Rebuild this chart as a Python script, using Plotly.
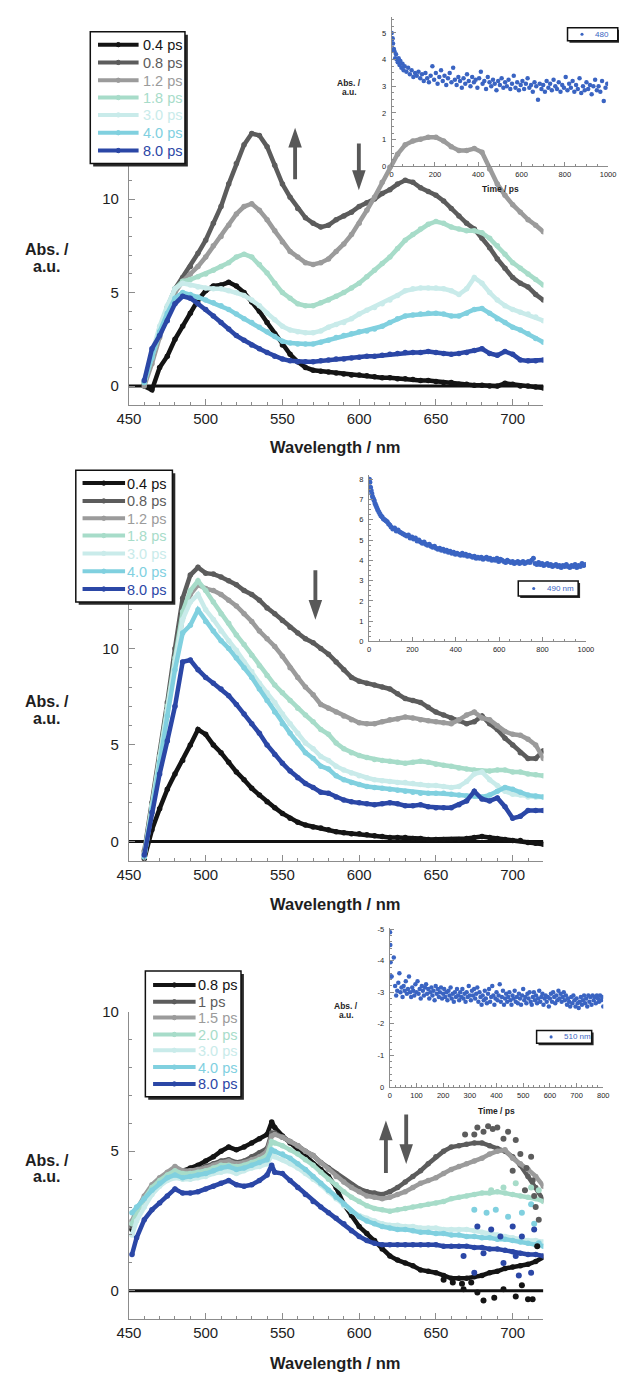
import plotly.graph_objects as go

W, H = 619, 1375
FONT = "Liberation Sans, Arial, Helvetica, sans-serif"

# ---------------------------------------------------------------- spectra
WL1 = list(range(460, 725, 5))
WL2 = list(range(460, 725, 5))
WL3 = [452, 455] + list(range(460, 545, 5)) + [543] + list(range(545, 725, 5))

LABELS_AB = ["0.4 ps", "0.8 ps", "1.2 ps", "1.8 ps", "3.0 ps", "4.0 ps", "8.0 ps"]
LABELS_C = ["0.8 ps", "1 ps", "1.5 ps", "2.0 ps", "3.0 ps", "4.0 ps", "8.0 ps"]
COLORS = ["#141414", "#5c5c5c", "#9b9b9b", "#a7dcc9", "#c9ebea", "#80d0df", "#2b47a6"]
INSET_BLUE = "#3a64c2"

P1_04 = [0.0, -0.2, 1.0, 1.6, 2.5, 3.2, 3.9, 4.6, 5.1, 5.35, 5.4, 5.55, 5.35, 5.0, 4.5,
         4.0, 3.4, 2.8, 2.2, 1.7, 1.3, 1.0, 0.85, 0.8, 0.75, 0.7, 0.65, 0.6, 0.6,
         0.55, 0.5, 0.45, 0.45, 0.4, 0.4, 0.35, 0.3, 0.3, 0.25, 0.2, 0.2, 0.1, 0.1, 0.05, 0.05,
         0.0, 0.0, 0.15, 0.1, 0.0, 0.0, -0.05, -0.1]
P1_08 = [0.2, 1.5, 3.0, 4.2, 5.2, 5.8, 6.4, 7.1, 7.8, 8.7, 9.6, 10.8, 11.9, 12.9, 13.5,
         13.4, 12.8, 11.8, 10.8, 10.1, 9.5, 9.0, 8.7, 8.5, 8.6, 8.9, 9.1, 9.3, 9.6,
         9.8, 10.0, 10.3, 10.5, 10.8, 11.0, 10.9, 10.6, 10.4, 10.2, 9.9, 9.5, 9.1, 8.7, 8.4, 7.9,
         7.4, 6.8, 6.3, 5.8, 5.5, 5.3, 4.9, 4.6]
P1_12 = [0.0, 1.2, 2.6, 3.9, 5.0, 5.6, 6.0, 6.4, 6.9, 7.5, 8.0, 8.6, 9.2, 9.6, 9.75,
         9.4, 8.9, 8.3, 7.7, 7.2, 6.9, 6.6, 6.5, 6.6, 6.8, 7.2, 7.6, 8.1, 8.7,
         9.4, 10.1, 10.9, 11.7, 12.4, 12.9, 13.1, 13.2, 13.3, 13.3, 13.1, 12.8, 12.6, 12.6, 12.7, 12.5,
         11.6, 10.8, 10.2, 9.7, 9.3, 8.9, 8.6, 8.25]
P1_18 = [0.2, 1.6, 3.0, 4.2, 5.2, 5.6, 5.7, 5.85, 6.0, 6.2, 6.4, 6.6, 6.9, 7.05, 6.9,
         6.5, 6.05, 5.5, 5.0, 4.7, 4.4, 4.3, 4.3, 4.45, 4.6, 4.8, 5.0, 5.25, 5.5,
         5.85, 6.2, 6.55, 6.9, 7.35, 7.8, 8.1, 8.4, 8.65, 8.8, 8.7, 8.5, 8.4, 8.3, 8.3, 8.2,
         7.9, 7.5, 7.05, 6.6, 6.3, 6.0, 5.7, 5.4]
P1_30 = [0.3, 1.8, 3.2, 4.3, 5.2, 5.5, 5.4, 5.3, 5.25, 5.2, 5.2, 5.1, 5.0, 4.85, 4.6,
         4.3, 3.9, 3.55, 3.2, 3.0, 2.9, 2.85, 2.85, 2.95, 3.15, 3.3, 3.4, 3.6, 3.85,
         4.05, 4.2, 4.4, 4.6, 4.85, 5.1, 5.2, 5.25, 5.25, 5.25, 5.2, 5.1, 4.9, 5.2, 5.8, 5.5,
         5.0, 4.6, 4.3, 4.1, 3.95, 3.85, 3.7, 3.5]
P1_40 = [0.2, 1.5, 2.9, 3.9, 4.7, 5.0, 4.9, 4.75, 4.6, 4.45, 4.3, 4.1, 3.85, 3.6, 3.4,
         3.15, 2.9, 2.65, 2.4, 2.3, 2.25, 2.25, 2.25, 2.35, 2.45, 2.6, 2.7, 2.8, 2.9,
         2.95, 3.05, 3.2, 3.4, 3.6, 3.75, 3.8, 3.85, 3.9, 3.9, 3.85, 3.75, 3.75, 3.9, 4.1, 4.15,
         3.9, 3.6, 3.4, 3.15, 3.0, 2.8, 2.55, 2.35]
P1_80 = [0.3, 2.0, 2.7, 3.5, 4.4, 4.8, 4.7, 4.4, 4.1, 3.75, 3.4, 3.05, 2.7, 2.45, 2.2,
         2.0, 1.8, 1.6, 1.45, 1.35, 1.3, 1.3, 1.3, 1.35, 1.4, 1.45, 1.45, 1.5, 1.55,
         1.6, 1.6, 1.65, 1.7, 1.75, 1.8, 1.8, 1.8, 1.85, 1.8, 1.75, 1.7, 1.75, 1.8, 1.9, 2.0,
         1.75, 1.65, 1.85, 1.7, 1.4, 1.35, 1.35, 1.4]

P2_04 = [-0.9, 0.6, 1.7, 2.7, 3.5, 4.2, 5.0, 5.8, 5.55, 5.0, 4.6, 4.1, 3.6, 3.2, 2.75,
         2.4, 2.05, 1.75, 1.45, 1.2, 1.0, 0.85, 0.75, 0.7, 0.6, 0.5, 0.45, 0.4, 0.4,
         0.35, 0.3, 0.25, 0.2, 0.2, 0.2, 0.15, 0.15, 0.1, 0.1, 0.1, 0.1, 0.1, 0.15, 0.2, 0.25,
         0.2, 0.15, 0.1, 0.05, 0.05, -0.05, -0.1, -0.15]
P2_08 = [-0.5, 2.0, 4.5, 7.2, 10.0, 12.6, 13.8, 14.2, 13.9, 13.85, 13.7, 13.5, 13.3, 13.0, 12.8,
         12.5, 12.1, 11.8, 11.45, 11.1, 10.8, 10.5, 10.3, 10.0, 9.7, 9.3, 8.9, 8.5, 8.3,
         8.2, 8.1, 8.0, 7.9, 7.65, 7.4, 7.3, 7.2, 6.95, 6.7, 6.55, 6.4, 6.25, 6.1, 6.2, 6.5,
         6.1, 5.8, 5.35, 5.0, 4.6, 4.3, 4.3, 4.7]
P2_12 = [-0.6, 1.8, 4.3, 6.8, 9.3, 11.6, 12.8, 13.3, 13.1, 13.0, 12.8, 12.5, 12.2, 11.8, 11.4,
         10.9, 10.5, 10.1, 9.6, 9.0, 8.5, 8.0, 7.6, 7.1, 6.9, 6.7, 6.5, 6.3, 6.15,
         6.1, 6.1, 6.2, 6.3, 6.35, 6.45, 6.4, 6.3, 6.25, 6.2, 6.15, 6.1, 6.3, 6.55, 6.7, 6.4,
         6.3, 6.0, 5.7, 5.55, 5.5, 5.3, 5.0, 4.3]
P2_18 = [-0.7, 1.9, 4.4, 7.0, 9.5, 11.9, 13.0, 13.5, 13.0, 12.4, 11.8, 11.3, 10.7, 10.2, 9.65,
         9.1, 8.6, 8.1, 7.7, 7.3, 6.9, 6.55, 6.2, 5.8, 5.55, 5.1, 4.8, 4.6, 4.45,
         4.35, 4.25, 4.2, 4.15, 4.1, 4.05, 4.1, 4.15, 4.1, 4.0, 3.95, 3.9, 3.8, 3.75, 3.7, 3.65,
         3.65, 3.7, 3.7, 3.6, 3.6, 3.5, 3.45, 3.4]
P2_30 = [-0.8, 1.8, 4.3, 6.8, 9.3, 11.5, 12.4, 12.8, 12.0, 11.5, 10.9, 10.4, 9.9, 9.3, 8.8,
         8.2, 7.7, 7.2, 6.6, 6.1, 5.6, 5.1, 4.8, 4.4, 4.2, 3.9, 3.7, 3.55, 3.4,
         3.3, 3.2, 3.15, 3.1, 3.05, 3.05, 3.0, 2.95, 2.9, 2.9, 2.85, 2.8, 2.85, 3.1, 3.5, 3.6,
         3.2, 2.9, 2.6, 2.45, 2.4, 2.3, 2.3, 2.3]
P2_40 = [-0.8, 1.7, 4.1, 6.5, 8.9, 10.8, 11.2, 12.0, 11.4, 10.9, 10.4, 10.0, 9.5, 9.0, 8.5,
         7.9, 7.3, 6.7, 6.1, 5.6, 5.1, 4.6, 4.3, 3.9, 3.75, 3.4, 3.2, 3.05, 2.95,
         2.85, 2.8, 2.75, 2.7, 2.65, 2.6, 2.55, 2.5, 2.5, 2.5, 2.5, 2.45, 2.4, 2.35, 2.35, 2.3,
         2.4, 2.6, 2.8, 2.7, 2.55, 2.4, 2.35, 2.3]
P2_80 = [-0.7, 1.5, 3.5, 5.2, 7.0, 9.3, 9.4, 8.9, 8.5, 8.2, 7.9, 7.55, 7.1, 6.6, 6.1,
         5.6, 5.0, 4.5, 4.05, 3.65, 3.3, 3.0, 2.8, 2.55, 2.5, 2.3, 2.15, 2.05, 2.0,
         1.95, 1.9, 1.95, 2.0, 1.95, 1.85, 1.85, 1.9, 1.8, 1.75, 1.75, 1.75, 1.9, 2.1, 2.6, 2.2,
         2.1, 2.25, 1.8, 1.2, 1.3, 1.6, 1.6, 1.6]

P3_08 = [2.2, 2.6, 3.3, 3.7, 3.95, 4.15, 4.3, 4.3, 4.4, 4.5, 4.65, 4.8, 5.0, 5.15, 5.05, 5.15, 5.3, 5.45, 5.6,
         6.05,
         5.85, 5.55, 5.3, 5.1, 4.8, 4.55, 4.35, 4.1, 3.7, 3.1, 2.7, 2.3, 2.05, 1.8, 1.5, 1.25, 1.1, 1.0,
         0.9, 0.75, 0.7, 0.65, 0.55, 0.45, 0.45, 0.45, 0.5, 0.55, 0.65, 0.7, 0.8, 0.85, 0.9, 0.95, 1.05, 1.2]
P3_10 = [2.3, 2.7, 3.3, 3.7, 4.0, 4.2, 4.4, 4.3, 4.3, 4.35, 4.45, 4.55, 4.65, 4.7, 4.6, 4.65, 4.8, 4.95, 5.1,
         5.65,
         5.65, 5.5, 5.35, 5.2, 5.0, 4.85, 4.6, 4.4, 4.2, 4.0, 3.8, 3.65, 3.55, 3.5, 3.45, 3.55, 3.7, 3.9,
         4.1, 4.3, 4.55, 4.8, 5.0, 5.15, 5.2, 5.25, 5.3, 5.3, 5.2, 5.1, 5.0, 4.8, 4.5, 4.1, 3.7, 3.25]
P3_15 = [2.5, 2.9, 3.4, 3.8, 4.05, 4.25, 4.45, 4.3, 4.3, 4.35, 4.4, 4.5, 4.6, 4.65, 4.55, 4.6, 4.7, 4.8, 5.0,
         5.55,
         5.6, 5.5, 5.35, 5.2, 5.0, 4.85, 4.6, 4.35, 4.1, 3.9, 3.7, 3.55, 3.4, 3.35, 3.3, 3.35, 3.45, 3.55,
         3.7, 3.85, 3.95, 4.05, 4.2, 4.35, 4.45, 4.55, 4.65, 4.75, 4.9, 5.0, 5.05, 4.75, 4.55, 4.35, 4.1, 3.75]
P3_20 = [2.4, 2.8, 3.3, 3.7, 3.95, 4.15, 4.3, 4.2, 4.2, 4.25, 4.3, 4.4, 4.5, 4.5, 4.45, 4.5, 4.6, 4.7, 4.85,
         5.35,
         5.3, 5.2, 5.05, 4.9, 4.7, 4.5, 4.25, 4.0, 3.8, 3.55, 3.35, 3.2, 3.05, 2.95, 2.9, 2.85, 2.9, 2.95,
         3.0, 3.05, 3.1, 3.15, 3.2, 3.3, 3.35, 3.4, 3.45, 3.5, 3.5, 3.55, 3.5, 3.45, 3.4, 3.35, 3.3, 3.2]
P3_30 = [2.0, 2.5, 3.0, 3.45, 3.75, 3.95, 4.05, 4.0, 4.0, 4.05, 4.1, 4.2, 4.25, 4.3, 4.2, 4.3, 4.4, 4.45, 4.55,
         4.85,
         4.8, 4.7, 4.55, 4.4, 4.2, 4.0, 3.8, 3.55, 3.3, 3.05, 2.85, 2.7, 2.6, 2.5, 2.4, 2.35, 2.35, 2.3,
         2.3, 2.25, 2.25, 2.25, 2.2, 2.2, 2.2, 2.2, 2.15, 2.1, 2.05, 2.0, 1.95, 1.9, 1.85, 1.8, 1.8, 1.75]
P3_40 = [2.8, 3.0, 3.3, 3.6, 3.85, 4.05, 4.15, 4.05, 4.1, 4.15, 4.2, 4.3, 4.4, 4.45, 4.35, 4.4, 4.5, 4.6, 4.7,
         5.05,
         5.0, 4.9, 4.75, 4.55, 4.35, 4.1, 3.85, 3.6, 3.35, 3.1, 2.85, 2.65, 2.5, 2.4, 2.3, 2.25, 2.2, 2.2,
         2.15, 2.1, 2.1, 2.05, 2.05, 2.0, 2.0, 1.95, 1.95, 1.9, 1.9, 1.85, 1.85, 1.8, 1.75, 1.7, 1.65, 1.6]
P3_80 = [1.3, 1.9, 2.55, 2.9, 3.15, 3.4, 3.65, 3.5, 3.5, 3.55, 3.65, 3.75, 3.85, 3.95, 3.8, 3.75, 3.8, 3.95, 4.15,
         4.5,
         4.25, 4.2, 3.95, 3.7, 3.45, 3.2, 3.0, 2.8, 2.6, 2.4, 2.15, 1.95, 1.8, 1.7, 1.65, 1.65, 1.65, 1.65,
         1.65, 1.65, 1.65, 1.65, 1.6, 1.6, 1.6, 1.6, 1.55, 1.55, 1.5, 1.5, 1.45, 1.4, 1.35, 1.3, 1.3, 1.25]

# scattered single-shot points in the red end of the third spectrum set
DOT3_08_WL = [655, 661, 667, 668, 673, 677, 681, 688, 694, 702, 706, 710, 713, 716]
DOT3_08_V = [0.4, 0.3, 0.25, 0.06, 0.3, -0.06, -0.35, -0.25, 0.06, -0.2, 0.2, -0.3, -0.3, 1.6]
DOT3_10_WL = [669, 675, 677, 681, 684, 687, 690, 694, 697, 700, 702, 705, 708, 709, 712, 713, 714, 715, 717]
DOT3_10_V = [5.6, 5.6, 5.85, 5.7, 5.9, 5.8, 5.85, 5.45, 5.7, 4.3, 5.4, 4.9, 3.6, 4.4, 4.8, 3.95, 3.4, 3.0, 2.55]
DOT3_20_WL = [686, 694, 702, 712, 717]
DOT3_20_V = [3.6, 3.7, 3.85, 3.7, 3.6]
DOT3_40_WL = [675, 683, 689, 697, 706, 712, 714, 717]
DOT3_40_V = [2.9, 2.8, 2.9, 2.65, 2.8, 3.1, 2.4, 1.7]
DOT3_80_WL = [668, 675, 677, 681, 686, 692, 694, 700, 702, 704, 706, 712, 714]
DOT3_80_V = [1.25, 0.65, 2.3, 1.35, 2.2, 1.95, 1.0, 2.3, 1.25, 0.55, 1.95, 0.65, 2.2]

BASE_X = [450, 720]
BASE_Y = [0, 0]

# ---------------------------------------------------------------- kinetics (insets)
T1 = [0, 2, 4, 6, 8, 10, 13, 16, 20, 24, 28, 32, 36, 40, 45, 50, 55, 60] + list(range(68, 1000, 8))
A1 = [5.0, 4.75, 4.8, 4.6, 4.35, 4.4, 4.3, 4.05, 4.2, 4.0, 3.9, 4.05, 3.8, 3.95, 3.7, 3.85, 3.6, 3.75,
      3.55, 3.7, 3.45, 3.6, 3.35, 3.5, 3.4, 3.55, 3.3, 3.45, 3.2, 3.5, 3.3, 3.15, 3.4, 3.75, 3.25, 3.5,
      3.1, 3.35, 3.6, 3.2, 3.4, 3.05, 3.3, 3.5, 3.15, 3.7, 3.25, 3.05, 3.35, 3.2, 2.95, 3.3, 3.1, 3.45,
      3.2, 3.0, 3.35, 3.15, 3.25, 2.95, 3.3, 3.55, 3.1, 3.2, 2.9, 3.35, 3.15, 3.0, 3.25, 3.1, 2.85, 3.2,
      3.05, 3.3, 2.95, 3.15, 3.0, 3.25, 2.9, 3.1, 3.4, 2.95, 3.15, 2.85, 3.05, 3.2, 2.9, 3.1, 3.3, 2.95,
      3.05, 2.8, 3.15, 3.0, 2.5, 3.1, 2.9, 3.05, 2.8, 3.2, 2.95, 3.1, 2.85, 3.25, 3.0, 2.9, 3.15, 2.8,
      3.05, 2.95, 3.35, 2.85, 3.1, 2.95, 3.2, 2.8, 3.05, 2.9, 3.3, 2.75, 3.0, 2.85, 3.15, 2.9, 3.05, 2.7,
      3.0, 3.25, 2.85, 3.0, 2.8, 3.2, 2.45, 2.95, 3.1]

T2 = [2, 4, 7, 10, 13, 16, 20, 24, 28, 32, 36, 40, 45, 50, 55, 60, 66, 72, 78, 84, 90, 96] + list(range(102, 1000, 8))
A2 = [8.0, 7.85, 7.6, 7.45, 7.3, 7.15, 7.05, 6.95, 6.8, 6.7, 6.6, 6.5, 6.4, 6.3, 6.2, 6.15, 6.05, 6.0,
      5.95, 5.9, 5.8, 5.75,
      5.65, 5.55, 5.6, 5.45, 5.5, 5.4, 5.35, 5.3, 5.25, 5.2, 5.25, 5.1, 5.15, 5.05, 5.1, 4.95, 5.0, 4.9,
      4.85, 4.9, 4.8, 4.75, 4.8, 4.7, 4.65, 4.7, 4.6, 4.55, 4.6, 4.5, 4.55, 4.45, 4.5, 4.4, 4.45, 4.35,
      4.4, 4.3, 4.35, 4.3, 4.25, 4.35, 4.25, 4.3, 4.2, 4.25, 4.2, 4.15, 4.2, 4.1, 4.15, 4.1, 4.15, 4.05,
      4.1, 4.15, 4.05, 4.1, 4.0, 4.05, 4.0, 4.1, 3.95, 4.05, 4.0, 3.95, 3.9, 4.0, 3.95, 3.9, 3.95, 3.85,
      3.9, 3.95, 3.85, 3.9, 3.95, 3.85, 3.9, 3.95, 3.9, 4.0, 4.1, 3.85, 3.8, 3.9, 3.8, 3.85, 3.75, 3.8,
      3.85, 3.75, 3.8, 3.7, 3.75, 3.8, 3.7, 3.75, 3.65, 3.75, 3.7, 3.8, 3.7, 3.65, 3.75, 3.7, 3.8, 3.65,
      3.75, 3.7, 3.85, 3.75, 3.8]

T3 = [1, 2, 3, 5, 7, 15] + list(range(20, 801, 4))
A3 = [-4.9, -4.5, -3.95, -3.5, -3.5, -4.1,
      -3.2, -2.9, -3.05, -3.3, -3.6, -3.0, -3.15, -2.85, -3.2, -3.05, -3.35, -2.95, -3.1, -3.5, -3.0,
      -2.85, -3.15, -3.05, -2.9, -3.25, -3.0, -3.35, -2.95, -3.1, -2.8, -3.2, -3.05, -2.9, -3.15, -3.25,
      -2.95, -3.1, -2.8, -3.0, -3.15, -2.9, -3.05, -2.75, -3.2, -2.95, -3.1, -2.85, -3.0, -3.15, -2.8,
      -2.95, -3.1, -2.85, -3.0, -2.75, -3.05, -2.9, -3.15, -2.8, -2.95, -2.7, -3.0, -2.85, -3.1, -2.9,
      -2.75, -3.0, -2.85, -3.1, -2.8, -2.95, -2.7, -3.0, -2.85, -3.2, -2.9, -2.75, -3.05, -2.9, -3.1,
      -2.8, -2.95, -3.15, -2.7, -3.0, -2.85, -2.6, -2.9, -2.75, -3.05, -2.8, -2.65, -2.95, -3.1, -2.7,
      -2.85, -3.2, -2.9, -2.6, -2.8, -3.0, -2.75, -2.9, -3.25, -2.7, -2.85, -3.05, -2.6, -2.8, -2.95,
      -2.7, -2.85, -3.0, -2.75, -2.6, -2.9, -2.8, -3.05, -2.7, -2.85, -2.65, -2.95, -2.8, -2.6, -2.9,
      -3.1, -2.75, -2.85, -2.65, -2.95, -2.8, -3.0, -2.7, -2.6, -2.85, -3.0, -2.75, -2.9, -2.65, -2.8,
      -3.05, -2.7, -2.85, -2.95, -2.6, -2.8, -2.9, -2.7, -2.85, -2.55, -2.8, -2.95, -2.7, -3.0, -2.85,
      -2.65, -2.9, -2.75, -3.05, -2.8, -2.95, -2.7, -2.85, -3.0, -2.75, -2.9, -2.6, -2.8, -2.7, -2.55,
      -2.85, -2.65, -2.9, -2.75, -2.55, -2.8, -2.65, -2.5, -2.7, -2.85, -2.6, -2.75, -2.9, -2.65, -2.8,
      -2.55, -2.9, -2.7, -2.85, -2.6, -2.9, -2.75, -2.85, -2.65, -2.9, -2.8, -2.7, -2.9, -2.75, -2.85,
      -2.55]

for name, xs, ys in [("P1", WL1, P1_80), ("P2", WL2, P2_80), ("P3", WL3, P3_80),
                     ("T1", T1, A1), ("T2", T2, A2), ("T3", T3, A3)]:
    assert len(xs) == len(ys), (name, len(xs), len(ys))

PANEL1 = [P1_04, P1_08, P1_12, P1_18, P1_30, P1_40, P1_80]
PANEL2 = [P2_04, P2_08, P2_12, P2_18, P2_30, P2_40, P2_80]
PANEL3 = [P3_08, P3_10, P3_15, P3_20, P3_30, P3_40, P3_80]
for grp, wl in [(PANEL1, WL1), (PANEL2, WL2), (PANEL3, WL3)]:
    for s in grp:
        assert len(s) == len(wl), (len(s), len(wl))


# ---------------------------------------------------------------- helpers
def fx(x):
    return x / W


def fy(y):
    return 1 - y / H


AX_GRAY = "#8c8c8c"
TXT = "#1e1e1e"

fig = go.Figure()


def add_spectra(xa, ya, wl, series):
    fig.add_trace(go.Scatter(x=BASE_X, y=BASE_Y, mode="lines", xaxis=xa, yaxis=ya,
                             line=dict(color="#111111", width=3), hoverinfo="skip", showlegend=False))
    for vals, col in zip(series, COLORS):
        fig.add_trace(go.Scatter(x=wl, y=vals, mode="lines+markers", xaxis=xa, yaxis=ya,
                                 line=dict(color=col, width=4.5),
                                 marker=dict(color=col, size=5.5),
                                 hoverinfo="skip", showlegend=False))


add_spectra("x", "y", WL1, PANEL1)
add_spectra("x3", "y3", WL2, PANEL2)
add_spectra("x5", "y5", WL3, PANEL3)

for wl, v, ci in [(DOT3_20_WL, DOT3_20_V, 3), (DOT3_40_WL, DOT3_40_V, 5), (DOT3_80_WL, DOT3_80_V, 6),
                  (DOT3_10_WL, DOT3_10_V, 1), (DOT3_08_WL, DOT3_08_V, 0)]:
    fig.add_trace(go.Scatter(x=wl, y=v, mode="markers", xaxis="x5", yaxis="y5",
                             marker=dict(color=COLORS[ci], size=6), hoverinfo="skip", showlegend=False))

for t, a, xa, ya, ms in [(T1, A1, "x2", "y2", 4.5), (T2, A2, "x4", "y4", 5), (T3, A3, "x6", "y6", 4.5)]:
    fig.add_trace(go.Scatter(x=t, y=a, mode="markers", xaxis=xa, yaxis=ya,
                             marker=dict(color=INSET_BLUE, size=ms), hoverinfo="skip", showlegend=False))


def axis_common(size, ticklen):
    return dict(showline=True, linecolor=AX_GRAY, linewidth=1, ticks="inside", ticklen=ticklen,
                tickcolor=AX_GRAY, tickwidth=1, showgrid=False, zeroline=False,
                tickfont=dict(family=FONT, size=size, color=TXT))


def main_x(anchor):
    d = axis_common(15, 6)
    d.update(domain=[fx(120), fx(549)], range=[450, 720], anchor=anchor, tickmode="linear",
             tick0=450, dtick=50,
             minor=dict(ticks="inside", ticklen=3, tick0=450, dtick=10, tickcolor=AX_GRAY, showgrid=False))
    return d


def main_y(anchor, zero_px, per_unit, ymin, ymax):
    d = axis_common(15, 6)
    d.update(domain=[fy(zero_px - ymin * per_unit), fy(zero_px - ymax * per_unit)], range=[ymin, ymax],
             anchor=anchor, tickmode="linear", tick0=0, dtick=5, ticklabelstandoff=6,
             minor=dict(ticks="inside", ticklen=3, tick0=0, dtick=1, tickcolor=AX_GRAY, showgrid=False))
    return d


def inset_x(anchor, x0_px, x1_px, rng, dtick, mdtick):
    d = axis_common(7.5, 4)
    d.update(domain=[fx(x0_px), fx(x1_px)], range=rng, anchor=anchor, tickmode="linear", tick0=0,
             dtick=dtick, ticklabelstandoff=1,
             minor=dict(ticks="inside", ticklen=2, tick0=0, dtick=mdtick, tickcolor=AX_GRAY, showgrid=False))
    return d


def inset_y(anchor, bot_px, top_px, rng, mdtick):
    d = axis_common(7.5, 4)
    d.update(domain=[fy(bot_px), fy(top_px)], range=rng, anchor=anchor, tickmode="linear", tick0=0,
             dtick=1, ticklabelstandoff=3,
             minor=dict(ticks="inside", ticklen=2, tick0=0, dtick=mdtick, tickcolor=AX_GRAY, showgrid=False))
    return d


y6 = inset_y("x6", 1089, 928, [0, -5.05], 0.2)
y6.update(tickmode="array", tickvals=[0, -1, -2, -3, -4, -5], ticktext=["0", "-1", "-2", "-3", "-4", "-5"])

fig.update_layout(
    width=W, height=H, margin=dict(l=0, r=0, t=0, b=0),
    paper_bgcolor="white", plot_bgcolor="rgba(0,0,0,0)", showlegend=False,
    xaxis=main_x("y"),
    yaxis=main_y("x", 381, 18.9, -1, 14.9),
    xaxis3=main_x("y3"),
    yaxis3=main_y("x3", 841, 19.5, -1, 14.9),
    xaxis5=main_x("y5"),
    yaxis5=main_y("x5", 1295, 28.2, -1, 10),
    xaxis2=inset_x("y2", 392, 616, [0, 1000], 200, 50),
    yaxis2=inset_y("x2", 159, 8, [0, 5.6], 0.25),
    xaxis4=inset_x("y4", 368.5, 593, [0, 1000], 200, 50),
    yaxis4=inset_y("x4", 639, 471, [0, 8.2], 0.25),
    xaxis6=inset_x("y6", 390, 611, [0, 800], 100, 20),
    yaxis6=y6,
)

shapes = []
annotations = []


def text(x, y, s, size, color=TXT, bold=False, anchor="center"):
    annotations.append(dict(x=fx(x), y=fy(y), xref="paper", yref="paper", text=("<b>%s</b>" % s) if bold else s,
                            showarrow=False, xanchor=anchor, yanchor="middle",
                            font=dict(family=FONT, size=size, color=color)))


def box(x0, y0, x1, y1, sh):
    shapes.append(dict(type="rect", xref="paper", yref="paper", x0=fx(x0 + sh), x1=fx(x1 + sh),
                       y0=fy(y1 + sh), y1=fy(y0 + sh), fillcolor="#2a2a2a", line=dict(width=0), layer="above"))
    shapes.append(dict(type="rect", xref="paper", yref="paper", x0=fx(x0), x1=fx(x1),
                       y0=fy(y1), y1=fy(y0), fillcolor="white", line=dict(color="#111111", width=1.5),
                       layer="above"))


def legend(x0, y0, x1, y1, rows, lx0, lx1, tx, labels):
    box(x0, y0, x1, y1, 3)
    for yy, lab, col in zip(rows, labels, COLORS):
        shapes.append(dict(type="line", xref="paper", yref="paper", x0=fx(lx0), x1=fx(lx1), y0=fy(yy),
                           y1=fy(yy), line=dict(color=col, width=4), layer="above"))
        r = 2.2
        shapes.append(dict(type="circle", xref="paper", yref="paper", x0=fx((lx0 + lx1) / 2 - r),
                           x1=fx((lx0 + lx1) / 2 + r), y0=fy(yy + r), y1=fy(yy - r),
                           fillcolor=col, line=dict(color=col, width=1), layer="above"))
        text(tx, yy + 0.5, lab, 14.5, color=col, anchor="left")


legend(80, 23, 178, 156, [36, 54, 72, 89.5, 107, 125, 143], 88, 130, 132, LABELS_AB)
legend(65, 466, 165, 599, [479, 497, 514.5, 532, 550, 568, 586], 72, 116, 116, LABELS_AB)
legend(137, 972, 236, 1099, [986, 1003, 1019, 1036, 1052, 1069, 1086], 145, 189, 189, LABELS_C)


def inset_legend(x0, y0, x1, y1, dot_x, tx, label):
    box(x0, y0, x1, y1, 2)
    yy = (y0 + y1) / 2
    shapes.append(dict(type="circle", xref="paper", yref="paper", x0=fx(dot_x - 1.6), x1=fx(dot_x + 1.6),
                       y0=fy(yy + 1.6), y1=fy(yy - 1.6), fillcolor=INSET_BLUE, line=dict(width=0),
                       layer="above"))
    text(tx, yy, label, 8, color=INSET_BLUE, anchor="left")


inset_legend(574, 19, 626, 32, 589, 600, "480")
inset_legend(523, 578, 585, 593, 539, 551, "490 nm")
inset_legend(542, 1032, 599, 1045, 557, 568, "510 nm")


def arrow(xc, y_tail, y_tip, color="#585858"):
    d = 1 if y_tip > y_tail else -1
    hl, hw, sw = 20, 7, 2
    base = y_tip - d * hl
    pts = [(xc - sw, y_tail), (xc - sw, base), (xc - hw, base), (xc, y_tip),
           (xc + hw, base), (xc + sw, base), (xc + sw, y_tail)]
    path = "M" + " L".join("%.5f,%.5f" % (fx(px), fy(py)) for px, py in pts) + " Z"
    shapes.append(dict(type="path", xref="paper", yref="paper", path=path, fillcolor=color,
                       line=dict(width=0), layer="above"))


arrow(292, 172, 120)
arrow(358, 136, 183)
arrow(313, 567, 617)
arrow(386, 1176, 1123)
arrow(407, 1117, 1167)

# axis titles
for y_title, y_abs in [(443, 243), (904, 700), (1368, 1163)]:
    text(334, y_title, "Wavelength / nm", 16.5, bold=True)
    text(35, y_abs, "Abs. /", 16, bold=True)
    text(35, y_abs + 17, "a.u.", 16, bold=True)

text(348, 75, "Abs. /", 8.5, bold=True)
text(348, 84, "a.u.", 8.5, bold=True)
text(505, 182, "Time / ps", 8.5, bold=True)
text(345, 1007, "Abs. /", 8.5, bold=True)
text(345, 1016, "a.u.", 8.5, bold=True)
text(500, 1113, "Time / ps", 8.5, bold=True)

fig.update_layout(shapes=shapes, annotations=annotations)
fig.write_html("out.html")
